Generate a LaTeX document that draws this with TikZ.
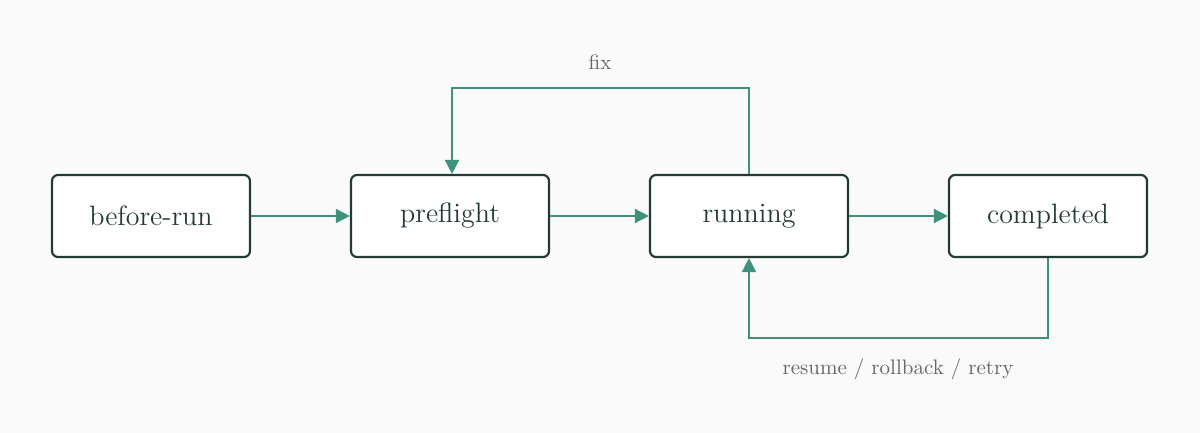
\documentclass[tikz,border=0pt]{standalone}
\usetikzlibrary{arrows.meta}
\definecolor{bg}{HTML}{FAFAFA}
\definecolor{edge}{HTML}{3E917A}
\definecolor{boxline}{HTML}{233B33}
\definecolor{lbl}{HTML}{666666}
\begin{document}
\begin{tikzpicture}[x=0.5pt,y=-0.5pt,
  stbox/.style={draw=boxline,line width=1.1pt,rounded corners=3pt,fill=white,minimum width=99pt,minimum height=41pt,inner sep=0pt,font=\fontsize{14}{16}\selectfont,text=boxline},
  conn/.style={draw=edge,line width=0.8pt,-{Triangle[length=7pt,width=7pt]}},
  elabel/.style={text=lbl,font=\fontsize{10.5}{12}\selectfont}]
\fill[bg] (0,0) rectangle (1200,433);
\useasboundingbox (0,0) rectangle (1200,433);
\node[stbox] (b) at (151,216) {before-run};
\node[stbox] (p) at (450,216) {preflight};
\node[stbox] (r) at (749,216) {running};
\node[stbox] (c) at (1048,216) {completed};
\draw[conn] (b) -- (p);
\draw[conn] (p) -- (r);
\draw[conn] (r) -- (c);
\coordinate (f1) at (749,88);
\coordinate (f2) at (452,88);
\draw[conn] (r.north) -- (f1) -- (f2) -- ([xshift=1pt]p.north);
\coordinate (g1) at (1048,338);
\coordinate (g2) at (749,338);
\draw[conn] (c.south) -- (g1) -- (g2) -- (r.south);
\node[elabel] (fl) at (600,62) {fix};
\node[elabel] (rl) at (898,369) {resume / rollback / retry};
\end{tikzpicture}
\end{document}
